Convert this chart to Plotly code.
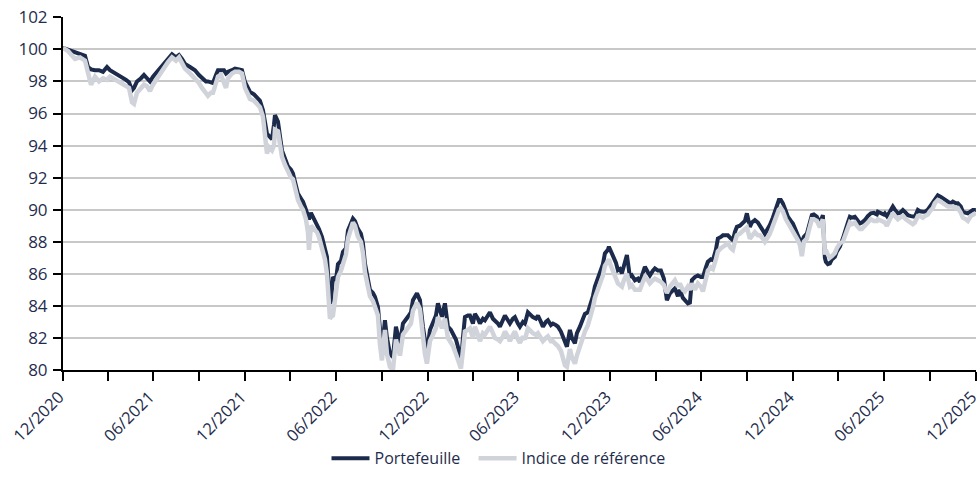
import pandas as pd
import plotly.graph_objects as go

# days elapsed since 31/12/2020 for each reading
jours = [
    0, 10, 24, 34, 44, 50, 56, 64, 72, 80, 88, 94, 100, 108, 118, 126, 132, 138, 142, 148,
    156, 162, 168, 174, 180, 188, 196, 204, 210, 218, 226, 232, 238, 244, 254, 264, 272, 278, 286, 290,
    296, 300, 306, 310, 316, 322, 326, 330, 338, 344, 352, 358, 364, 370, 374, 382, 388, 394, 400, 404,
    408, 412, 418, 422, 424, 430, 434, 438, 444, 450, 456, 460, 466, 470, 476, 480, 486, 490, 492, 496,
    502, 508, 512, 518, 524, 528, 534, 536, 540, 546, 550, 556, 560, 566, 570, 576, 580, 584, 590, 596,
    600, 604, 610, 614, 620, 624, 630, 634, 638, 644, 648, 654, 660, 666, 674, 680, 686, 690, 696, 700,
    708, 714, 720, 724, 728, 734, 740, 746, 750, 758, 764, 770, 776, 780, 786, 790, 796, 800, 804, 810,
    814, 820, 824, 830, 834, 840, 844, 850, 854, 860, 864, 870, 874, 880, 884, 890, 894, 900, 904, 910,
    914, 920, 924, 930, 936, 940, 946, 950, 956, 960, 966, 970, 976, 980, 986, 990, 996, 1000, 1004, 1008,
    1014, 1018, 1024, 1028, 1034, 1040, 1044, 1050, 1054, 1060, 1064, 1070, 1074, 1080, 1084, 1090, 1092, 1096, 1100, 1106,
    1110, 1114, 1118, 1122, 1128, 1134, 1138, 1144, 1150, 1154, 1160, 1164, 1170, 1174, 1180, 1184, 1190, 1196, 1202, 1208,
    1214, 1220, 1224, 1230, 1234, 1240, 1244, 1250, 1254, 1258, 1264, 1270, 1276, 1280, 1286, 1290, 1296, 1300, 1306, 1310,
    1316, 1320, 1326, 1330, 1336, 1340, 1344, 1348, 1354, 1358, 1364, 1368, 1374, 1378, 1384, 1390, 1394, 1400, 1404, 1410,
    1414, 1420, 1424, 1428, 1432, 1436, 1440, 1446, 1450, 1456, 1460, 1466, 1470, 1474, 1478, 1482, 1488, 1492, 1498, 1502,
    1508, 1514, 1518, 1520, 1524, 1526, 1530, 1534, 1538, 1544, 1548, 1554, 1560, 1564, 1570, 1574, 1578, 1584, 1588, 1594,
    1598, 1604, 1610, 1616, 1622, 1628, 1630, 1636, 1642, 1644, 1648, 1654, 1660, 1664, 1670, 1674, 1680, 1686, 1690, 1696,
    1700, 1704, 1710, 1714, 1720, 1724, 1730, 1734, 1740, 1744, 1750, 1756, 1760, 1766, 1770, 1776, 1780, 1786, 1790, 1796,
    1800, 1806, 1810, 1816, 1820, 1826,
]

portefeuille = [
    100.1, 100.0, 99.85, 99.7, 99.6, 98.9, 98.75, 98.7, 98.7, 98.6, 98.9, 98.7, 98.6, 98.4, 98.3, 98.1, 97.95, 97.45, 97.6, 98.0,
    98.2, 98.4, 98.2, 98.0, 98.3, 98.6, 98.9, 99.2, 99.4, 99.7, 99.5, 99.65, 99.4, 99.1, 98.9, 98.7, 98.4, 98.2, 98.0, 98.0,
    97.97, 97.9, 98.4, 98.7, 98.7, 98.7, 98.5, 98.6, 98.7, 98.8, 98.75, 98.7, 97.97, 97.6, 97.35, 97.2, 97.0, 96.8, 96.2, 95.5,
    94.75, 94.6, 94.4, 95.3, 95.9, 95.5, 94.5, 93.7, 93.2, 92.7, 92.5, 92.26, 91.5, 91.0, 90.7, 90.5, 90.0, 89.55, 89.4, 89.8,
    89.4, 89.14, 88.8, 88.3, 87.5, 87.06, 84.15, 84.3, 85.8, 85.6, 86.6, 86.8, 87.37, 87.6, 88.7, 89.2, 89.45, 89.3, 88.8, 88.5,
    87.9, 86.65, 85.6, 85.0, 84.8, 84.57, 83.94, 82.5, 81.25, 83.1, 82.0, 81.04, 80.8, 82.7, 81.6, 82.9, 83.1, 83.32, 83.6, 84.36,
    84.78, 84.36, 82.7, 81.8, 81.04, 82.5, 82.9, 83.4, 84.16, 83.32, 84.16, 82.7, 82.5, 82.3, 81.9, 81.45, 80.4, 82.0, 83.3, 83.4,
    83.4, 82.9, 83.5, 83.2, 82.9, 83.2, 83.1, 83.4, 83.6, 83.2, 83.1, 82.9, 82.7, 83.2, 83.4, 83.1, 82.9, 83.2, 83.3, 82.9,
    82.7, 83.0, 82.9, 83.6, 83.4, 83.3, 83.2, 83.4, 83.0, 82.7, 83.0, 83.1, 82.8, 82.9, 82.8, 82.7, 82.4, 82.1, 81.7, 81.45,
    82.5, 82.0, 81.66, 82.3, 82.7, 83.3, 83.5, 83.6, 83.94, 84.6, 85.2, 85.7, 86.03, 86.6, 87.27, 87.5, 87.69, 87.4, 87.1, 86.7,
    86.23, 86.3, 86.03, 86.5, 87.17, 85.8, 85.9, 85.6, 85.7, 85.5, 86.0, 86.44, 86.1, 85.9, 86.2, 86.34, 86.2, 86.2, 85.7, 84.36,
    84.78, 85.0, 85.09, 84.6, 85.0, 84.5, 84.36, 84.15, 84.2, 85.6, 85.8, 85.9, 85.8, 85.8, 86.4, 86.75, 86.9, 86.85, 87.5, 88.2,
    88.3, 88.4, 88.4, 88.4, 88.2, 88.1, 88.6, 88.93, 89.0, 89.14, 89.3, 89.77, 88.93, 89.2, 89.35, 89.2, 89.04, 88.7, 88.5, 88.8,
    89.04, 89.5, 89.87, 90.3, 90.6, 90.6, 90.4, 89.9, 89.56, 89.3, 89.14, 88.7, 88.4, 88.1, 87.98, 88.3, 88.5, 89.0, 89.66, 89.7,
    89.56, 89.14, 89.4, 89.66, 87.0, 86.75, 86.6, 86.65, 86.9, 87.06, 87.4, 87.69, 88.2, 88.7, 89.2, 89.56, 89.5, 89.56, 89.4, 89.14,
    89.2, 89.35, 89.6, 89.77, 89.8, 89.7, 89.87, 89.8, 89.7, 89.77, 89.6, 89.87, 90.19, 90.0, 89.77, 89.8, 89.98, 89.8, 89.66, 89.6,
    89.56, 89.56, 89.98, 89.9, 89.87, 89.87, 90.0, 90.19, 90.4, 90.6, 90.9, 90.8, 90.7, 90.6, 90.5, 90.4, 90.5, 90.4, 90.4, 90.2,
    89.87, 89.8, 89.77, 89.9, 89.98, 89.98,
]

indice = [
    100.1, 99.9, 99.4, 99.5, 99.3, 98.6, 97.8, 98.3, 98.0, 98.2, 98.1, 98.3, 98.2, 98.0, 97.9, 97.7, 97.6, 96.7, 96.6, 97.3,
    97.6, 97.8, 97.7, 97.4, 97.8, 98.2, 98.6, 98.9, 99.2, 99.5, 99.3, 99.5, 99.1, 98.8, 98.5, 98.2, 97.9, 97.6, 97.3, 97.1,
    97.3, 97.3, 97.9, 98.3, 98.4, 98.0, 97.6, 98.2, 98.5, 98.6, 98.6, 98.5, 97.6, 97.2, 96.9, 96.8, 96.6, 96.4, 95.8, 94.7,
    93.5, 93.9, 93.7, 94.0, 95.0, 94.9, 94.0, 93.3, 92.8, 92.3, 92.0, 91.9, 91.0, 90.6, 90.2, 90.0, 89.4, 88.6, 87.5, 89.0,
    88.8, 88.6, 88.3, 87.7, 86.9, 86.0, 83.2, 83.3, 83.4, 84.9, 85.8, 86.2, 86.7, 87.2, 88.2, 88.9, 89.2, 89.0, 88.3, 88.0,
    87.3, 86.1, 85.0, 84.6, 84.3, 84.0, 83.4, 81.6, 80.6, 82.5, 81.0, 80.2, 80.0, 81.9, 80.9, 82.2, 82.5, 82.6, 82.9, 83.7,
    84.2, 83.8, 82.0, 81.0, 80.4, 81.8, 82.2, 82.6, 83.3, 82.6, 83.2, 82.0, 81.7, 81.5, 81.0, 80.6, 80.1, 81.2, 82.4, 82.5,
    82.6, 82.0, 82.7, 82.2, 81.8, 82.3, 82.2, 82.5, 82.7, 82.3, 82.0, 81.9, 81.8, 82.1, 82.4, 82.1, 81.8, 82.2, 82.4, 81.9,
    81.7, 82.1, 81.9, 82.6, 82.4, 82.3, 82.2, 82.3, 82.0, 81.8, 82.0, 82.1, 81.8, 81.8, 81.6, 81.5, 81.2, 80.8, 80.3, 80.2,
    81.3, 80.8, 80.4, 80.9, 81.5, 82.0, 82.4, 82.8, 83.2, 83.9, 84.5, 85.0, 85.3, 85.9, 86.5, 86.8, 86.9, 86.5, 86.2, 85.8,
    85.4, 85.3, 85.2, 85.6, 86.0, 85.2, 85.3, 85.0, 85.0, 85.0, 85.5, 85.8, 85.6, 85.4, 85.6, 85.7, 85.6, 85.5, 85.3, 84.8,
    85.2, 85.5, 85.6, 85.2, 85.4, 85.0, 84.9, 85.2, 85.0, 85.4, 85.0, 85.4, 85.2, 84.9, 85.7, 86.2, 86.4, 86.3, 86.9, 87.4,
    87.6, 87.7, 87.8, 87.9, 87.6, 87.5, 88.0, 88.4, 88.5, 88.6, 88.8, 88.9, 88.2, 88.4, 88.6, 88.4, 88.4, 88.2, 88.0, 88.3,
    88.5, 89.0, 89.3, 89.7, 90.0, 90.1, 89.9, 89.4, 89.2, 88.9, 88.7, 88.4, 88.1, 87.8, 87.1, 88.0, 88.2, 88.7, 89.4, 89.4,
    89.3, 88.9, 89.2, 89.4, 87.2, 87.5, 87.2, 87.0, 87.1, 87.3, 87.6, 87.9, 88.0, 88.4, 88.9, 89.2, 89.1, 89.2, 89.0, 88.8,
    88.8, 89.0, 89.2, 89.4, 89.3, 89.3, 89.4, 89.3, 89.2, 89.2, 89.0, 89.4, 89.8, 89.6, 89.4, 89.5, 89.6, 89.4, 89.3, 89.2,
    89.1, 89.2, 89.6, 89.6, 89.5, 89.6, 89.7, 89.9, 90.1, 90.4, 90.6, 90.5, 90.4, 90.3, 90.2, 90.2, 90.2, 90.1, 90.1, 89.8,
    89.5, 89.4, 89.3, 89.6, 89.7, 89.8,
]

tick_dates = [
    "2020-12-31", "2021-03-31", "2021-06-30", "2021-09-30", "2021-12-31", "2022-03-31", "2022-06-30",
    "2022-09-30", "2022-12-31", "2023-03-31", "2023-06-30", "2023-09-30", "2023-12-31", "2024-03-31",
    "2024-06-30", "2024-09-30", "2024-12-31", "2025-03-31", "2025-06-30", "2025-09-30", "2025-12-31",
]
tick_labels = [
    "12/2020", "", "06/2021", "", "12/2021", "", "06/2022", "", "12/2022", "", "06/2023",
    "", "12/2023", "", "06/2024", "", "12/2024", "", "06/2025", "", "12/2025",
]

dates = pd.Timestamp("2020-12-31") + pd.to_timedelta(jours, unit="D")

navy = "#1c2b4b"
grey = "#d0d3da"
font_col = "#1f2d4d"

fig = go.Figure()

fig.add_trace(go.Scatter(
    x=dates, y=portefeuille,
    mode="lines",
    name="Portefeuille&nbsp;&nbsp;",
    line=dict(color=navy, width=4)
))

fig.add_trace(go.Scatter(
    x=dates, y=indice,
    mode="lines",
    name="Indice de référence",
    line=dict(color=grey, width=4.5)
))

fig.update_layout(
    width=980,
    height=493,
    margin=dict(l=63, r=4, t=17, b=123, autoexpand=False),
    paper_bgcolor="white",
    plot_bgcolor="white",
    font=dict(family="Open Sans, sans-serif", size=17, color=font_col),
    showlegend=True,
    legend=dict(
        orientation="h",
        x=0.477, xanchor="center",
        y=-0.25, yanchor="middle",
        font=dict(size=16, color=font_col),
        itemwidth=38,
    ),
)

fig.update_xaxes(
    range=["2020-12-31", "2025-12-31 08:00"],
    tickvals=tick_dates,
    ticktext=tick_labels,
    tickangle=-45,
    ticks="outside",
    ticklen=9,
    tickwidth=2,
    tickcolor="black",
    showline=True,
    linecolor="black",
    linewidth=2,
    showgrid=False,
    zeroline=False,
    automargin=False,
    ticklabeloverflow="allow",
    ticklabelshift=-4,
    tickfont=dict(size=16.5, color=font_col),
)

fig.update_yaxes(
    range=[80, 102.02],
    dtick=2,
    tick0=80,
    ticks="outside",
    ticklen=8,
    tickwidth=2,
    tickcolor="black",
    showline=True,
    linecolor="black",
    linewidth=2,
    showgrid=True,
    gridcolor="#c8c8c8",
    gridwidth=2,
    zeroline=False,
    automargin=False,
    ticklabelstandoff=2,
    tickfont=dict(size=17, color=font_col),
)

# drop the browser's default body margin and scrollbars so the figure sits at 0,0
fig.write_html(
    "out.html",
    config={"displayModeBar": False},
    post_script="document.body.style.margin='0';document.body.style.overflow='hidden';",
)
